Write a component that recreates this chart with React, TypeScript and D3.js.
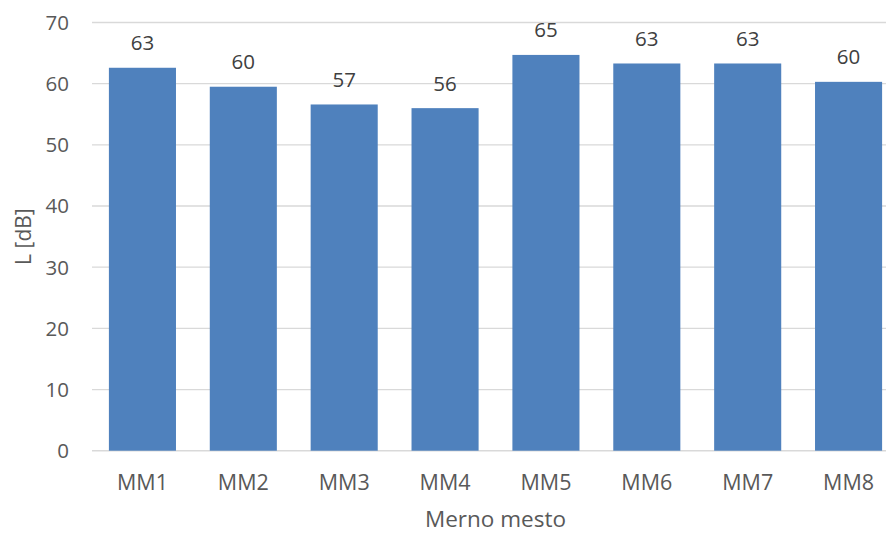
import React from "react";
import * as d3 from "d3";

const categories = ["MM1", "MM2", "MM3", "MM4", "MM5", "MM6", "MM7", "MM8"];
const values = [62.6, 59.5, 56.6, 56.0, 64.7, 63.3, 63.3, 60.3];
const labels = ["63", "60", "57", "56", "65", "63", "63", "60"];
const yTicks = [0, 10, 20, 30, 40, 50, 60, 70];

const W = 886;
const H = 533;
const left = 92;
const right = 899;
const top = 22.5;
const bottom = 450.7;
const font = "'Open Sans', sans-serif";
const textColor = "#595959";

export default function App() {
  const x = d3.scaleBand<string>().domain(categories).range([left, right]).paddingInner(0.335).paddingOuter(0.1675);
  const y = d3.scaleLinear().domain([0, 70]).range([bottom, top]);
  return (
    <svg width={W} height={H} style={{ position: "absolute", left: 0, top: 0 }} fontFamily={font}>
      <rect width={W} height={H} fill="#fff" />
      {yTicks.map((t) => (
        <g key={t}>
          <line x1={left} x2={right} y1={y(t)} y2={y(t)} stroke="#D9D9D9" strokeWidth={t === 0 ? 1.5 : 1.3} />
          <text x={69} y={y(t)} dy="0.36em" textAnchor="end" fontSize={20.5} fill={textColor}>{t}</text>
        </g>
      ))}
      {categories.map((c, i) => (
        <g key={c}>
          <rect x={x(c)} y={y(values[i])} width={x.bandwidth()} height={y(0) - y(values[i])} fill="#4F81BD" />
          <text x={(x(c) as number) + x.bandwidth() / 2} y={y(values[i]) - 17.5} textAnchor="middle" fontSize={20.5} fill="#404040">{labels[i]}</text>
          <text x={(x(c) as number) + x.bandwidth() / 2} y={490} textAnchor="middle" fontSize={21.5} fill={textColor}>{c}</text>
        </g>
      ))}
      <text transform={`translate(31,${(top + bottom) / 2}) rotate(-90)`} textAnchor="middle" fontSize={21} fill={textColor}>L [dB]</text>
      <text x={(left + right) / 2} y={527} textAnchor="middle" fontSize={22.5} fill={textColor}>Merno mesto</text>
    </svg>
  );
}
